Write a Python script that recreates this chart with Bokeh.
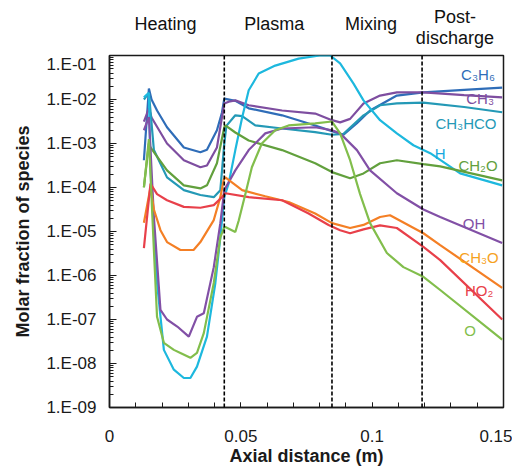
from bokeh.plotting import figure
from bokeh.models import FixedTicker, CustomJSTickFormatter, Span, Label
from bokeh.layouts import column
from bokeh.core.properties import value
from bokeh.embed import file_html
from bokeh.resources import INLINE

# ---------------- data (axial distance in m, molar fraction) ----------------
x_c3h6 = [0.0131, 0.0150, 0.0160, 0.0181, 0.0219, 0.0283, 0.0346, 0.0371, 0.0409, 0.0428, 0.0437, 0.0479,
          0.0530, 0.0657, 0.0783, 0.0847, 0.0891, 0.0942, 0.0992, 0.1094, 0.1195, 0.1350, 0.1495]
y_c3h6 = [4.17e-4, 1.78e-2, 1.0e-2, 5.62e-3, 2.34e-3, 8.13e-4, 6.31e-4, 7.24e-4, 2.0e-3, 5.0e-3, 1.05e-2, 9.33e-3,
          6.31e-3, 4.37e-3, 2.57e-3, 1.91e-3, 1.58e-3, 2.88e-3, 5.62e-3, 1.23e-2, 1.45e-2, 1.66e-2, 1.86e-2]

x_ch3 = [0.0131, 0.0150, 0.0160, 0.0219, 0.0283, 0.0346, 0.0371, 0.0409, 0.0437, 0.0454, 0.0479, 0.0530,
         0.0657, 0.0783, 0.0847, 0.0878, 0.0916, 0.0967, 0.1030, 0.1094, 0.1195, 0.1350, 0.1495]
y_ch3 = [3.16e-3, 6.31e-3, 3.89e-3, 1.0e-3, 4.17e-4, 2.88e-4, 3.16e-4, 8.13e-4, 8.13e-3, 8.91e-3, 9.55e-3, 7.41e-3,
         5.62e-3, 4.79e-3, 3.39e-3, 3.02e-3, 3.63e-3, 8.13e-3, 1.23e-2, 1.45e-2, 1.45e-2, 1.26e-2, 1.12e-2]

x_ch3hco = [0.0131, 0.0150, 0.0169, 0.0219, 0.0283, 0.0346, 0.0397, 0.0422, 0.0437, 0.0445, 0.0479, 0.0505,
            0.0555, 0.0657, 0.0783, 0.0847, 0.0891, 0.0967, 0.1030, 0.1094, 0.1195, 0.1350, 0.1495]
y_ch3hco = [1.0e-2, 1.41e-2, 7.08e-4, 1.70e-4, 8.71e-5, 6.76e-5, 6.03e-5, 8.71e-5, 1.0e-3, 2.51e-3, 4.37e-3, 4.17e-3,
            2.57e-3, 2.19e-3, 1.82e-3, 1.58e-3, 1.66e-3, 4.37e-3, 7.41e-3, 8.13e-3, 8.51e-3, 6.76e-3, 5.13e-3]

x_h = [0.0131, 0.0150, 0.0156, 0.0169, 0.0181, 0.0207, 0.0245, 0.0283, 0.0308, 0.0333, 0.0371, 0.0403,
       0.0422, 0.0437, 0.0454, 0.0479, 0.0505, 0.0530, 0.0568, 0.0631, 0.0720, 0.0800, 0.0840, 0.0878,
       0.0929, 0.0967, 0.1030, 0.1094, 0.1157, 0.1221, 0.1335, 0.1495]
y_h = [1.12e-2, 1.41e-2, 2.88e-4, 9.12e-6, 6.76e-7, 2.04e-8, 7.24e-9, 4.68e-9, 4.68e-9, 8.51e-9, 4.07e-8, 6.76e-7,
       7.41e-6, 6.03e-5, 1.26e-4, 7.08e-4, 3.89e-3, 1.62e-2, 3.89e-2, 5.89e-2, 8.51e-2, 1.0e-1, 1.0e-1, 6.61e-2,
       2.29e-2, 9.55e-3, 3.39e-3, 1.70e-3, 9.12e-4, 6.03e-4, 2.09e-4, 1.12e-4]

x_ch2o = [0.0131, 0.0150, 0.0156, 0.0219, 0.0283, 0.0346, 0.0371, 0.0409, 0.0437, 0.0441, 0.0479,
          0.0530, 0.0657, 0.0783, 0.0847, 0.0916, 0.0967, 0.1030, 0.1094, 0.1195, 0.1259, 0.1495]
y_ch2o = [1.02e-4, 1.0e-3, 8.13e-4, 2.45e-4, 1.12e-4, 9.55e-5, 1.12e-4, 3.55e-4, 2.34e-3, 2.57e-3, 1.78e-3,
          1.17e-3, 7.08e-4, 3.55e-4, 2.24e-4, 1.62e-4, 2.09e-4, 3.55e-4, 4.17e-4, 3.39e-4, 3.02e-4, 1.45e-4]

x_oh = [0.0131, 0.0150, 0.0169, 0.0194, 0.0219, 0.0258, 0.0302, 0.0333, 0.0359, 0.0397, 0.0422, 0.0437,
        0.0479, 0.0530, 0.0593, 0.0657, 0.0783, 0.0847, 0.0878, 0.0942, 0.0992, 0.1094, 0.1195, 0.1259, 0.1495]
y_oh = [2.0e-3, 3.98e-3, 2.14e-5, 1.66e-7, 1.0e-7, 6.92e-8, 4.07e-8, 1.15e-7, 1.38e-7, 1.55e-6, 1.55e-5, 8.71e-5,
        2.45e-4, 7.08e-4, 1.70e-3, 2.19e-3, 2.34e-3, 2.0e-3, 1.70e-3, 7.08e-4, 2.45e-4, 7.41e-5, 3.16e-5, 2.14e-5, 5.50e-6]

x_ch3o = [0.0131, 0.0156, 0.0169, 0.0194, 0.0219, 0.0270, 0.0320, 0.0346, 0.0397, 0.0422, 0.0435, 0.0441,
          0.0505, 0.0593, 0.0682, 0.0783, 0.0847, 0.0916, 0.0967, 0.1030, 0.1068, 0.1195, 0.1259, 0.1495]
y_ch3o = [1.58e-5, 1.0e-4, 3.16e-5, 1.07e-5, 5.75e-6, 3.80e-6, 3.80e-6, 5.75e-6, 1.82e-5, 6.03e-5, 1.51e-4, 1.70e-4,
          8.71e-5, 6.31e-5, 4.68e-5, 2.57e-5, 1.55e-5, 1.20e-5, 1.41e-5, 2.14e-5, 2.34e-5, 9.12e-6, 4.90e-6, 5.25e-7]

x_ho2 = [0.0131, 0.0156, 0.0181, 0.0219, 0.0283, 0.0346, 0.0397, 0.0428, 0.0441, 0.0530, 0.0657,
         0.0758, 0.0834, 0.0878, 0.0916, 0.0967, 0.1030, 0.1094, 0.1195, 0.1259, 0.1495]
y_ho2 = [4.17e-6, 1.23e-4, 7.08e-5, 5.13e-5, 3.63e-5, 3.47e-5, 3.98e-5, 6.03e-5, 7.41e-5, 6.03e-5, 5.13e-5,
         2.57e-5, 1.41e-5, 1.07e-5, 9.12e-6, 1.12e-5, 1.38e-5, 1.20e-5, 4.47e-6, 2.24e-6, 1.0e-7]

x_o = [0.0131, 0.0150, 0.0169, 0.0181, 0.0207, 0.0245, 0.0270, 0.0308, 0.0333, 0.0359, 0.0397, 0.0422,
       0.0437, 0.0441, 0.0479, 0.0492, 0.0518, 0.0542, 0.0580, 0.0631, 0.0682, 0.0783, 0.0847, 0.0878,
       0.0916, 0.0954, 0.0992, 0.1056, 0.1119, 0.1195, 0.1259, 0.1495]
y_o = [1.0e-4, 1.26e-3, 3.80e-6, 1.15e-7, 2.95e-8, 2.04e-8, 1.74e-8, 1.35e-8, 1.74e-8, 4.90e-8, 6.76e-7, 7.41e-6,
       1.26e-5, 1.26e-5, 9.77e-6, 1.78e-5, 7.41e-5, 2.88e-4, 1.0e-3, 2.0e-3, 2.57e-3, 2.88e-3, 3.16e-3, 1.70e-3,
       4.17e-4, 7.08e-5, 1.55e-5, 3.24e-6, 1.55e-6, 9.33e-7, 4.68e-7, 3.47e-8]

species = ["C3H6", "CH3", "CH3HCO", "H", "CH2O", "OH", "CH3O", "HO2", "O"]
species_labels = ["C₃H₆", "CH₃", "CH₃HCO", "H", "CH₂O", "OH", "CH₃O", "HO₂", "O"]
series = {
    "C3H6": (x_c3h6, y_c3h6), "CH3": (x_ch3, y_ch3), "CH3HCO": (x_ch3hco, y_ch3hco),
    "H": (x_h, y_h), "CH2O": (x_ch2o, y_ch2o), "OH": (x_oh, y_oh),
    "CH3O": (x_ch3o, y_ch3o), "HO2": (x_ho2, y_ho2), "O": (x_o, y_o),
}

regions = ["Heating", "Plasma", "Mixing", "Post-discharge"]
region_bounds = [0.0, 0.0437, 0.0847, 0.119, 0.15]   # dashed lines at the inner bounds

x_ticks = [0, 0.05, 0.1, 0.15]
y_ticks = [1e-9, 1e-8, 1e-7, 1e-6, 1e-5, 1e-4, 1e-3, 1e-2, 1e-1]

# ---------------- styles ----------------
FONT = "Liberation Sans"
INK = "#1a1a1a"
line_colors = {
    "C3H6": "#2F6DB8", "CH3": "#7E4EA0", "CH3HCO": "#2499B6", "H": "#1DB8DE", "CH2O": "#62A03D",
    "OH": "#8250A6", "CH3O": "#F47F25", "HO2": "#E8404A", "O": "#82BE4C",
}
label_colors = dict(line_colors, CH3O="#F6A21E", H="#16A8E0")
# label centre positions: (x in data, log10 of y)
label_pos = {
    "C3H6": (0.1403, -1.43), "CH3": (0.1411, -1.975), "CH3HCO": (0.1357, -2.54), "H": (0.1259, -3.22),
    "CH2O": (0.1403, -3.49), "OH": (0.1388, -4.81), "CH3O": (0.1407, -5.60), "HO2": (0.1407, -6.35),
    "O": (0.1373, -7.24),
}

LEFT, RIGHT, FRAME_W = 109, 9, 394
TOP_H = 54

# ---------------- main plot ----------------
p = figure(width=LEFT + FRAME_W + RIGHT, height=1 + 353 + 60, x_range=(0, 0.15), y_range=(1e-9, 1e-1),
           y_axis_type="log", output_backend="svg", toolbar_location=None,
           min_border_left=LEFT, min_border_right=RIGHT, min_border_top=1, min_border_bottom=60)
p.background_fill_color = "white"
p.border_fill_color = "white"
p.xgrid.visible = False
p.ygrid.visible = False
p.outline_line_color = INK
p.outline_line_width = 1.5

# x axis
p.xaxis.ticker = FixedTicker(ticks=x_ticks, minor_ticks=[i / 100 for i in range(16)])
p.xaxis.formatter = CustomJSTickFormatter(
    code="return tick === 0 ? '0' : String(parseFloat(tick.toFixed(3)));")
p.xaxis.major_tick_in = 5
p.xaxis.major_tick_out = 0
p.xaxis.minor_tick_in = 5
p.xaxis.minor_tick_out = 0
p.xaxis.major_label_text_font = FONT
p.xaxis.major_label_text_font_size = "17px"
p.xaxis.major_label_text_color = INK
p.xaxis.major_label_standoff = 22
p.xaxis.axis_label = "Axial distance (m)"
p.xaxis.axis_label_text_font = FONT
p.xaxis.axis_label_text_font_style = "bold"
p.xaxis.axis_label_text_font_size = "18px"
p.xaxis.axis_label_text_color = INK
p.xaxis.axis_label_standoff = 1
p.xaxis.axis_line_width = 1.5
p.xaxis.axis_line_color = INK
p.xaxis.major_tick_line_color = INK
p.xaxis.minor_tick_line_color = INK

# y axis
p.yaxis.ticker = FixedTicker(ticks=y_ticks,
                             minor_ticks=[m * 10.0 ** -k for k in range(9, 1, -1) for m in range(2, 10)])
p.yaxis.formatter = CustomJSTickFormatter(
    code="const e = Math.round(Math.log10(tick)); return '1.E' + (e < 0 ? '-' : '+') + String(Math.abs(e)).padStart(2, '0');")
p.yaxis.major_tick_in = 7
p.yaxis.major_tick_out = 0
p.yaxis.minor_tick_in = 4
p.yaxis.minor_tick_out = 0
p.yaxis.major_label_text_font = FONT
p.yaxis.major_label_text_font_size = "17px"
p.yaxis.major_label_text_color = INK
p.yaxis.major_label_standoff = 13
p.yaxis.axis_label = "Molar fraction of species"
p.yaxis.axis_label_text_font = FONT
p.yaxis.axis_label_text_font_style = "bold"
p.yaxis.axis_label_text_font_size = "18px"
p.yaxis.axis_label_text_color = INK
p.yaxis.axis_label_standoff = 10
p.yaxis.axis_line_width = 1.5
p.yaxis.axis_line_color = INK
p.yaxis.major_tick_line_color = INK
p.yaxis.minor_tick_line_color = INK

# curves
for sp in species:
    xs, ys = series[sp]
    p.line(xs, ys, line_color=line_colors[sp], line_width=2.2)

# region boundaries
for b in region_bounds[1:-1]:
    p.add_layout(Span(location=b, dimension="height", line_color="black",
                      line_width=1.6, line_dash="4 2"))

# species labels
for sp, lab in zip(species, species_labels):
    lx, ly = label_pos[sp]
    p.add_layout(Label(x=lx, y=10 ** ly, text=lab, text_align="center", text_baseline="middle",
                       text_font=FONT, text_font_size="15px", text_color=label_colors[sp]))

# ---------------- strip above the plot with the region names ----------------
top_w = FRAME_W + RIGHT
top = figure(width=LEFT + top_w, height=TOP_H, x_range=(0, 0.15 * top_w / FRAME_W), y_range=(0, TOP_H),
             output_backend="svg", toolbar_location=None, x_axis_location=None, y_axis_location=None,
             min_border_left=LEFT, min_border_right=0, min_border_top=0, min_border_bottom=0)
top.outline_line_color = None
top.xgrid.visible = False
top.ygrid.visible = False
top.background_fill_color = "white"
top.border_fill_color = "white"

tx, ty, tt = [], [], []
for i, name in enumerate(regions):
    xc = (region_bounds[i] + region_bounds[i + 1]) / 2
    if name == "Post-discharge":
        parts = [("Post-", 38), ("discharge", 16.5)]
    else:
        parts = [(name, 31)]
    for txt, yy in parts:
        tx.append(xc)
        ty.append(yy)
        tt.append(txt)
top.text(x=tx, y=ty, text=tt, text_align="center", text_baseline="middle",
         text_font=value(FONT), text_font_size=value("18px"), text_color="#111111")

layout = column(top, p, spacing=0)
open("out.html", "w").write(file_html(layout, INLINE))
